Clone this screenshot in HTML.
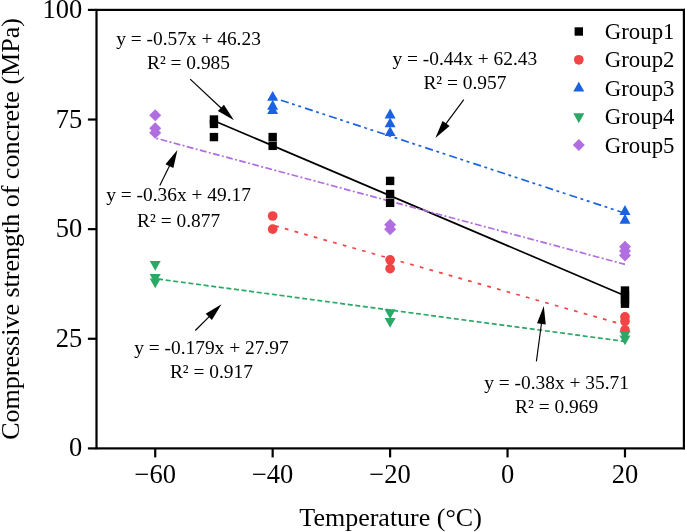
<!DOCTYPE html>
<html><head><meta charset="utf-8"><style>
html,body{margin:0;padding:0;background:#fff;}
svg{display:block;will-change:transform;}
text{font-family:"Liberation Serif",serif;fill:#000;}
</style></head><body>
<svg width="685" height="532" viewBox="0 0 685 532">
<rect width="685" height="532" fill="#fff"/>
<rect x="96.5" y="9.9" width="587.40" height="438.5" fill="none" stroke="#000" stroke-width="2.2"/>
<line x1="684.4" y1="8.8" x2="684.4" y2="449.5" stroke="#000" stroke-width="1.2"/>
<line x1="87.9" y1="448.40" x2="96.5" y2="448.40" stroke="#000" stroke-width="2.2"/>
<text x="82.3" y="456.40" font-family="Liberation Serif" font-size="26.5" text-anchor="end">0</text>
<line x1="87.9" y1="338.77" x2="96.5" y2="338.77" stroke="#000" stroke-width="2.2"/>
<text x="82.3" y="346.77" font-family="Liberation Serif" font-size="26.5" text-anchor="end">25</text>
<line x1="87.9" y1="229.15" x2="96.5" y2="229.15" stroke="#000" stroke-width="2.2"/>
<text x="82.3" y="237.15" font-family="Liberation Serif" font-size="26.5" text-anchor="end">50</text>
<line x1="87.9" y1="119.52" x2="96.5" y2="119.52" stroke="#000" stroke-width="2.2"/>
<text x="82.3" y="127.52" font-family="Liberation Serif" font-size="26.5" text-anchor="end">75</text>
<line x1="87.9" y1="9.90" x2="96.5" y2="9.90" stroke="#000" stroke-width="2.2"/>
<text x="82.3" y="17.90" font-family="Liberation Serif" font-size="26.5" text-anchor="end">100</text>
<line x1="155.22" y1="448.4" x2="155.22" y2="457.4" stroke="#000" stroke-width="2.2"/>
<text x="155.22" y="482.8" font-family="Liberation Serif" font-size="26.5" text-anchor="middle">−60</text>
<line x1="272.66" y1="448.4" x2="272.66" y2="457.4" stroke="#000" stroke-width="2.2"/>
<text x="272.66" y="482.8" font-family="Liberation Serif" font-size="26.5" text-anchor="middle">−40</text>
<line x1="390.10" y1="448.4" x2="390.10" y2="457.4" stroke="#000" stroke-width="2.2"/>
<text x="390.10" y="482.8" font-family="Liberation Serif" font-size="26.5" text-anchor="middle">−20</text>
<line x1="507.54" y1="448.4" x2="507.54" y2="457.4" stroke="#000" stroke-width="2.2"/>
<text x="507.54" y="482.8" font-family="Liberation Serif" font-size="26.5" text-anchor="middle">0</text>
<line x1="624.98" y1="448.4" x2="624.98" y2="457.4" stroke="#000" stroke-width="2.2"/>
<text x="624.98" y="482.8" font-family="Liberation Serif" font-size="26.5" text-anchor="middle">20</text>
<text x="390.6" y="525.6" font-family="Liberation Serif" font-size="26" text-anchor="middle">Temperature (°C)</text>
<text transform="translate(18.9,229) rotate(-90)" font-family="Liberation Serif" font-size="26" text-anchor="middle">Compressive strength of concrete (MPa)</text>
<line x1="213.94" y1="120.71" x2="624.98" y2="295.67" stroke="#000" stroke-width="1.65"/>
<line x1="272.66" y1="225.16" x2="624.98" y2="325.14" stroke="#F24444" stroke-width="1.7" stroke-dasharray="3.75 6.27" stroke-dashoffset="-2.68"/>
<line x1="272.66" y1="97.47" x2="624.98" y2="213.23" stroke="#1B62E3" stroke-width="1.7" stroke-dasharray="8.1 3.6 2.9 3.7 2.9 4.1" stroke-dashoffset="-8.73"/>
<line x1="155.22" y1="278.66" x2="624.98" y2="341.45" stroke="#2BA866" stroke-width="1.7" stroke-dasharray="5.0 2.65" stroke-dashoffset="-2.94"/>
<line x1="155.22" y1="138.07" x2="624.98" y2="264.36" stroke="#B06EE0" stroke-width="1.7" stroke-dasharray="6.8 2.4 1.95 2.41" stroke-dashoffset="-5.61"/>
<rect x="209.74" y="115.32" width="8.4" height="8.4" fill="#000"/>
<rect x="209.74" y="119.71" width="8.4" height="8.4" fill="#000"/>
<rect x="209.74" y="132.87" width="8.4" height="8.4" fill="#000"/>
<rect x="268.46" y="132.87" width="8.4" height="8.4" fill="#000"/>
<rect x="268.46" y="141.63" width="8.4" height="8.4" fill="#000"/>
<rect x="385.90" y="176.71" width="8.4" height="8.4" fill="#000"/>
<rect x="385.90" y="189.87" width="8.4" height="8.4" fill="#000"/>
<rect x="385.90" y="198.64" width="8.4" height="8.4" fill="#000"/>
<rect x="620.78" y="286.34" width="8.4" height="8.4" fill="#000"/>
<rect x="620.78" y="290.72" width="8.4" height="8.4" fill="#000"/>
<rect x="620.78" y="295.11" width="8.4" height="8.4" fill="#000"/>
<rect x="620.78" y="299.49" width="8.4" height="8.4" fill="#000"/>
<circle cx="272.66" cy="215.99" r="4.85" fill="#F24444"/>
<circle cx="272.66" cy="229.15" r="4.85" fill="#F24444"/>
<circle cx="390.10" cy="259.84" r="4.85" fill="#F24444"/>
<circle cx="390.10" cy="268.62" r="4.85" fill="#F24444"/>
<circle cx="624.98" cy="316.85" r="4.85" fill="#F24444"/>
<circle cx="624.98" cy="321.23" r="4.85" fill="#F24444"/>
<circle cx="624.98" cy="330.00" r="4.85" fill="#F24444"/>
<path d="M272.66 91.07L278.16 100.87L267.16 100.87Z" fill="#1B62E3"/>
<path d="M272.66 99.84L278.16 109.64L267.16 109.64Z" fill="#1B62E3"/>
<path d="M272.66 104.22L278.16 114.02L267.16 114.02Z" fill="#1B62E3"/>
<path d="M390.10 108.61L395.60 118.41L384.60 118.41Z" fill="#1B62E3"/>
<path d="M390.10 117.38L395.60 127.18L384.60 127.18Z" fill="#1B62E3"/>
<path d="M390.10 126.15L395.60 135.95L384.60 135.95Z" fill="#1B62E3"/>
<path d="M624.98 205.08L630.48 214.88L619.48 214.88Z" fill="#1B62E3"/>
<path d="M624.98 213.85L630.48 223.65L619.48 223.65Z" fill="#1B62E3"/>
<path d="M155.22 270.76L160.72 260.96L149.72 260.96Z" fill="#2BA866"/>
<path d="M155.22 283.92L160.72 274.12L149.72 274.12Z" fill="#2BA866"/>
<path d="M155.22 288.30L160.72 278.50L149.72 278.50Z" fill="#2BA866"/>
<path d="M390.10 319.00L395.60 309.20L384.60 309.20Z" fill="#2BA866"/>
<path d="M390.10 327.77L395.60 317.97L384.60 317.97Z" fill="#2BA866"/>
<path d="M624.98 340.92L630.48 331.12L619.48 331.12Z" fill="#2BA866"/>
<path d="M624.98 345.31L630.48 335.51L619.48 335.51Z" fill="#2BA866"/>
<path d="M155.22 109.14L161.22 115.14L155.22 121.14L149.22 115.14Z" fill="#B06EE0"/>
<path d="M155.22 122.29L161.22 128.29L155.22 134.29L149.22 128.29Z" fill="#B06EE0"/>
<path d="M155.22 126.68L161.22 132.68L155.22 138.68L149.22 132.68Z" fill="#B06EE0"/>
<path d="M390.10 218.76L396.10 224.76L390.10 230.76L384.10 224.76Z" fill="#B06EE0"/>
<path d="M390.10 223.15L396.10 229.15L390.10 235.15L384.10 229.15Z" fill="#B06EE0"/>
<path d="M624.98 240.69L630.98 246.69L624.98 252.69L618.98 246.69Z" fill="#B06EE0"/>
<path d="M624.98 245.07L630.98 251.07L624.98 257.07L618.98 251.07Z" fill="#B06EE0"/>
<path d="M624.98 249.46L630.98 255.46L624.98 261.46L618.98 255.46Z" fill="#B06EE0"/>
<rect x="574.60" y="27.30" width="8.4" height="8.4" fill="#000"/>
<circle cx="578.80" cy="59.80" r="4.85" fill="#F24444"/>
<path d="M578.80 81.67L584.30 91.47L573.30 91.47Z" fill="#1B62E3"/>
<path d="M578.80 123.13L584.30 113.33L573.30 113.33Z" fill="#2BA866"/>
<path d="M578.80 139.00L584.80 145.00L578.80 151.00L572.80 145.00Z" fill="#B06EE0"/>
<text x="604.8" y="39.00" font-family="Liberation Serif" font-size="22.8">Group1</text>
<text x="604.8" y="67.30" font-family="Liberation Serif" font-size="22.8">Group2</text>
<text x="604.8" y="95.70" font-family="Liberation Serif" font-size="22.8">Group3</text>
<text x="604.8" y="124.10" font-family="Liberation Serif" font-size="22.8">Group4</text>
<text x="604.8" y="152.50" font-family="Liberation Serif" font-size="22.8">Group5</text>
<text x="188.5" y="45.0" font-family="Liberation Serif" font-size="19.4" text-anchor="middle">y = -0.57x + 46.23</text>
<text x="188.5" y="69.0" font-family="Liberation Serif" font-size="19.4" text-anchor="middle">R² = 0.985</text>
<line x1="190.20" y1="79.10" x2="222.34" y2="109.23" stroke="#000" stroke-width="1.15"/>
<path d="M234.01 120.18L217.87 111.08L223.89 104.66Z" fill="#000"/>
<text x="464.9" y="64.7" font-family="Liberation Serif" font-size="19.4" text-anchor="middle">y = -0.44x + 62.43</text>
<text x="464.9" y="88.6" font-family="Liberation Serif" font-size="19.4" text-anchor="middle">R² = 0.957</text>
<line x1="463.80" y1="99.60" x2="444.91" y2="125.11" stroke="#000" stroke-width="1.15"/>
<path d="M435.38 137.96L442.56 120.88L449.63 126.12Z" fill="#000"/>
<text x="178.6" y="201.3" font-family="Liberation Serif" font-size="19.4" text-anchor="middle">y = -0.36x + 49.17</text>
<text x="178.6" y="226.6" font-family="Liberation Serif" font-size="19.4" text-anchor="middle">R² = 0.877</text>
<line x1="159.80" y1="185.50" x2="170.30" y2="164.31" stroke="#000" stroke-width="1.15"/>
<path d="M177.41 149.97L173.36 168.05L165.47 164.15Z" fill="#000"/>
<text x="211.4" y="354.2" font-family="Liberation Serif" font-size="19.4" text-anchor="middle">y = -0.179x + 27.97</text>
<text x="211.4" y="378.0" font-family="Liberation Serif" font-size="19.4" text-anchor="middle">R² = 0.917</text>
<line x1="195.30" y1="330.50" x2="210.20" y2="315.54" stroke="#000" stroke-width="1.15"/>
<path d="M221.49 304.20L211.91 320.06L205.67 313.85Z" fill="#000"/>
<text x="556.6" y="388.8" font-family="Liberation Serif" font-size="19.4" text-anchor="middle">y = -0.38x + 35.71</text>
<text x="556.6" y="413.1" font-family="Liberation Serif" font-size="19.4" text-anchor="middle">R² = 0.969</text>
<line x1="536.40" y1="361.40" x2="541.67" y2="321.97" stroke="#000" stroke-width="1.15"/>
<path d="M543.79 306.11L545.77 324.53L537.05 323.36Z" fill="#000"/>
</svg>
</body></html>
